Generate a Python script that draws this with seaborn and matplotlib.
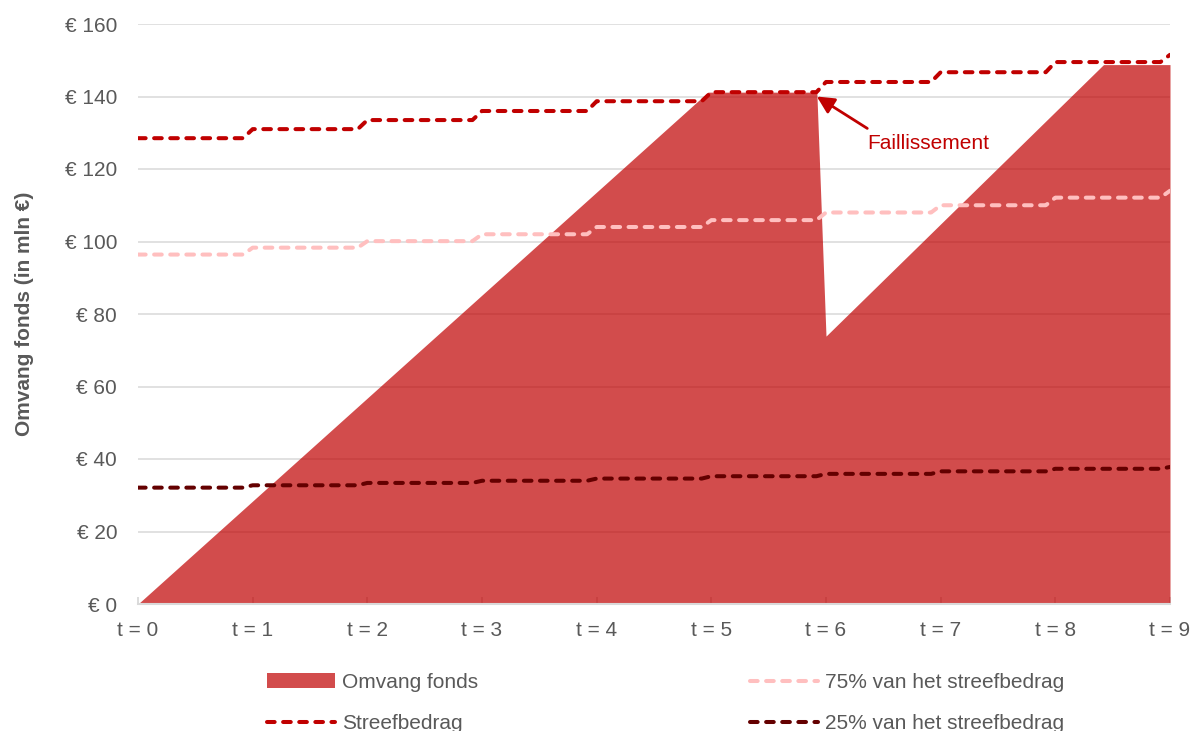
import numpy as np
import pandas as pd
import matplotlib
matplotlib.use('Agg')
import matplotlib.pyplot as plt
import seaborn as sns
from matplotlib.patches import Patch

jaren = list(range(10))
streefbedrag = [128.5, 131.0, 133.5, 136.0, 138.7, 141.2, 144.0, 146.7, 149.5, 151.5]
streef_75 = [96.4, 98.3, 100.1, 102.0, 104.0, 105.9, 108.0, 110.0, 112.1, 114.0]
streef_25 = [32.1, 32.75, 33.4, 34.0, 34.6, 35.25, 35.9, 36.6, 37.3, 37.8]

# omvang fonds: knikpunten (t, mln euro)
fonds_t = [0, 4.97, 5.92, 6.0, 8.42, 9.0]
fonds_v = [0, 141.2, 141.2, 73.9, 148.8, 148.8]

x_labels = [f't = {j}' for j in jaren]
faillissement_punt = (5.92, 140.0)
faillissement_tekst = (6.36, 127.0)

ROOD = '#C00000'
ROZE = '#FFBFBF'
DONKER = '#640000'
GRIJS = '#595959'
LIJN = '#D9D9D9'


def trap(vals, overgang=1 / 12):
    # jaarlijkse stap, met korte overgang vlak voor elk jaar
    xs, ys = [], []
    for k in range(len(vals) - 1):
        xs += [k, k + 1 - overgang]
        ys += [vals[k], vals[k]]
    xs.append(len(vals) - 1)
    ys.append(vals[-1])
    return pd.DataFrame({'t': xs, 'waarde': ys})


sns.set_theme(style='white')
plt.rcParams['font.family'] = ['Liberation Sans', 'DejaVu Sans']

fig = plt.figure(figsize=(11.94, 7.31), dpi=100)
ax = fig.add_axes([138 / 1194, 1 - 604 / 731, (1170 - 138) / 1194, (604 - 24) / 731])

ax.set_axisbelow(True)
ax.yaxis.grid(True, color=LIJN, linewidth=1.1)

ax.fill_between(fonds_t, fonds_v, 0, color=ROOD, alpha=0.7, linewidth=0, zorder=2)

lw = 2.9
dash = (0, (1.9, 2.1))
for vals, kleur in [(streef_75, ROZE), (streef_25, DONKER), (streefbedrag, ROOD)]:
    df = trap(vals)
    sns.lineplot(data=df, x='t', y='waarde', ax=ax, color=kleur, linewidth=lw,
                 linestyle=dash, dash_capstyle='round', sort=False,
                 estimator=None, zorder=3)

ax.annotate('', xy=faillissement_punt, xytext=(faillissement_tekst[0], faillissement_tekst[1] + 4.2),
            arrowprops=dict(arrowstyle='-|>', color=ROOD, lw=2.0, mutation_scale=26,
                            shrinkA=0, shrinkB=0), zorder=5)
ax.text(faillissement_tekst[0], faillissement_tekst[1], 'Faillissement', color=ROOD,
        fontsize=15, ha='left', va='center')

ax.set_xlim(0, 9)
ax.set_ylim(0, 160)
ax.set_xticks(jaren)
ax.set_xticklabels(x_labels)
ax.set_yticks(range(0, 161, 20))
ax.set_yticklabels([f'€ {v}' for v in range(0, 161, 20)])
ax.tick_params(axis='x', direction='in', length=5, width=1.3, color=LIJN,
               labelsize=15, labelcolor=GRIJS, pad=12, bottom=True)
ax.tick_params(axis='y', length=0, labelsize=15, labelcolor=GRIJS, pad=15)
ax.set_xlabel('')
ax.set_ylabel('Omvang fonds (in mln €)', fontsize=15, fontweight='bold', color=GRIJS,
              labelpad=22)

for s in ['top', 'right', 'left']:
    ax.spines[s].set_visible(False)
ax.spines['bottom'].set_color(LIJN)
ax.spines['bottom'].set_linewidth(1.5)

handles = [
    Patch(facecolor=ROOD, alpha=0.7, edgecolor='none'),
    plt.Line2D([], [], color=ROOD, lw=lw, linestyle=dash, dash_capstyle='round'),
    plt.Line2D([], [], color=ROZE, lw=lw, linestyle=dash, dash_capstyle='round'),
    plt.Line2D([], [], color=DONKER, lw=lw, linestyle=dash, dash_capstyle='round'),
]
labels = ['Omvang fonds', 'Streefbedrag', '75% van het streefbedrag', '25% van het streefbedrag']
leg = fig.legend(handles, labels, ncol=2, frameon=False, fontsize=15,
                 loc='upper left', bbox_to_anchor=(267 / 1194, 1 - 673 / 731),
                 borderpad=0, borderaxespad=0, handlelength=3.25, handleheight=0.7,
                 handletextpad=0.35, columnspacing=13.05, labelspacing=1.05)
for t in leg.get_texts():
    t.set_color(GRIJS)

fig.savefig('out.png', dpi=100)
